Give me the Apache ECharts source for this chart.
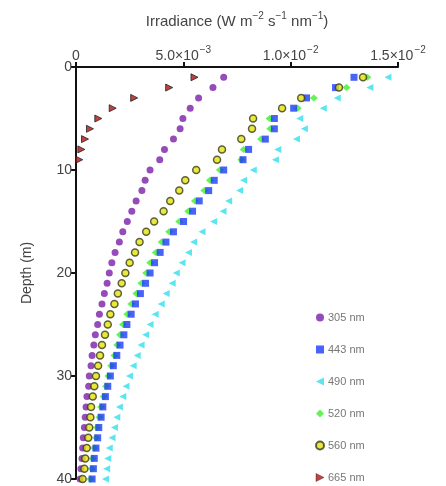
<!DOCTYPE html>
<html>
<head>
<meta charset="utf-8">
<script src="https://cdn.jsdelivr.net/npm/echarts@6/dist/echarts.min.js"></script>
<style>
html,body{margin:0;padding:0;background:#fff;}
#c{width:446px;height:486px;}
</style>
</head>
<body>
<div id="c"></div>
<script>
// Depth (m)
const depths = [1,2,3,4,5,6,7,8,9,10,11,12,13,14,15,16,17,18,19,20,21,22,23,24,25,26,27,28,29,30,31,32,33,34,35,36,37,38,39,40];
// Irradiance values in units of 1e-3 W m-2 s-1 nm-1
const e305 = [6.88,6.38,5.71,5.32,4.98,4.85,4.54,4.12,3.90,3.45,3.22,3.07,2.80,2.60,2.39,2.18,2.02,1.82,1.67,1.55,1.45,1.32,1.21,1.09,1.01,0.90,0.83,0.75,0.70,0.62,0.59,0.51,0.47,0.43,0.39,0.34,0.31,0.28,0.23,0.19];
const e443 = [12.95,12.09,10.74,10.14,9.24,9.24,8.82,8.04,7.78,6.88,6.44,6.18,5.74,5.43,5.01,4.54,4.19,3.92,3.66,3.45,3.24,3.00,2.77,2.57,2.37,2.23,2.05,1.90,1.74,1.60,1.48,1.37,1.25,1.17,1.06,1.01,0.93,0.85,0.81,0.75];
const e490 = [14.53,13.69,12.17,11.52,10.42,10.64,10.27,9.40,9.29,8.26,7.81,7.62,7.11,6.85,6.41,5.87,5.48,5.24,4.94,4.67,4.48,4.20,3.97,3.69,3.45,3.24,3.03,2.85,2.66,2.49,2.33,2.18,2.02,1.90,1.79,1.68,1.55,1.48,1.43,1.37];
const e520 = [13.57,12.60,11.08,10.33,9.02,9.05,8.62,7.81,7.70,6.70,6.24,5.98,5.54,5.23,4.81,4.34,3.99,3.72,3.46,3.27,3.05,2.81,2.58,2.39,2.19,2.05,1.92,1.79,1.64,1.51,1.40,1.29,1.17,1.09,0.98,0.93,0.85,0.77,0.73,0.67];
const e560 = [13.37,12.25,10.49,9.60,8.25,8.20,7.70,6.80,6.57,5.60,5.09,4.81,4.39,4.08,3.64,3.27,2.96,2.75,2.50,2.30,2.13,1.95,1.79,1.60,1.48,1.35,1.21,1.12,1.03,0.93,0.85,0.78,0.70,0.67,0.62,0.57,0.50,0.43,0.39,0.31];
const depths665 = [1,2,3,4,5,6,7,8,9];
const e665 = [5.52,4.34,2.71,1.71,1.04,0.65,0.42,0.25,0.15];

const seriesNames = ['305 nm','443 nm','490 nm','520 nm','560 nm','665 nm'];
const xTicks = [0, 0.005, 0.010, 0.015];
const xTickLabels = ['{b|0}', '{b|5.0\u00d710}{s|\u22123}', '{b|1.0\u00d710}{s|\u22122}', '{b|1.5\u00d710}{s|\u22122}'];
const yTicks = [0, 10, 20, 30, 40];
const xTitle = '{b|Irradiance (W m}{s|\u22122}{b| s}{s|\u22121}{b| nm}{s|\u22121}{b|)}';

function pairs(vals, ds) {
  return vals.map((v, i) => [v * 1e-3, ds[i]]);
}

const FONT = '"Liberation Sans", Arial, sans-serif';
const TRI_LEFT = 'path://M0,5 L10,0 L10,10 Z';
const TRI_RIGHT = 'path://M10,5 L0,0 L0,10 Z';
const richLabel = {
  b: {fontFamily: FONT, fontSize: 14, color: '#444', lineHeight: 18, verticalAlign: 'bottom'},
  s: {fontFamily: FONT, fontSize: 10, color: '#444', lineHeight: 18, verticalAlign: 'top', padding: [0, 0, 0, 1]}
};

const chart = echarts.init(document.getElementById('c'), null, {renderer: 'canvas'});
const option = {
  animation: false,
  backgroundColor: '#fff',
  grid: {left: 76, top: 67, right: 48, bottom: 4, containLabel: false},
  xAxis: {
    type: 'value',
    position: 'top',
    min: xTicks[0], max: xTicks[xTicks.length - 1], interval: 0.005,
    name: xTitle,
    nameLocation: 'middle', nameGap: 38,
    nameTextStyle: {fontFamily: FONT, fontSize: 15, color: '#444', rich: {
      b: {fontFamily: FONT, fontSize: 15, color: '#444', lineHeight: 18, verticalAlign: 'bottom'},
      s: {fontFamily: FONT, fontSize: 10, color: '#444', lineHeight: 18, verticalAlign: 'top'}
    }},
    axisLine: {show: true, lineStyle: {color: '#111', width: 2}},
    axisTick: {show: true, inside: false, length: 5, lineStyle: {color: '#111', width: 2}},
    axisLabel: {
      fontFamily: FONT, fontSize: 14, color: '#444', margin: 4,
      rich: richLabel,
      formatter: function (v) {
        const idx = xTicks.findIndex(t => Math.abs(t - v) < 1e-9);
        return idx >= 0 ? xTickLabels[idx] : '';
      }
    },
    splitLine: {show: false}
  },
  yAxis: {
    type: 'value',
    inverse: true,
    min: yTicks[0], max: yTicks[yTicks.length - 1], interval: 10,
    name: 'Depth (m)',
    nameLocation: 'middle', nameGap: 42,
    nameTextStyle: {fontFamily: FONT, fontSize: 14, color: '#444'},
    axisLine: {show: true, lineStyle: {color: '#111', width: 2}},
    axisTick: {show: true, inside: false, length: 5, lineStyle: {color: '#111', width: 2}},
    axisLabel: {fontFamily: FONT, fontSize: 14, color: '#444', margin: 4},
    splitLine: {show: false}
  },
  legend: {
    orient: 'vertical',
    left: 315, top: 312, padding: 0,
    height: 174,
    itemWidth: 8, itemHeight: 8, itemGap: 21,
    data: [
      {name: seriesNames[0], icon: 'circle'},
      {name: seriesNames[1], icon: 'rect'},
      {name: seriesNames[2], icon: TRI_LEFT},
      {name: seriesNames[3], icon: 'diamond'},
      {name: seriesNames[4], icon: 'circle'},
      {name: seriesNames[5], icon: TRI_RIGHT, itemStyle: {borderWidth: 0.5}}
    ],
    textStyle: {fontFamily: FONT, fontSize: 11, color: '#777', padding: [0, 0, 0, -1]}
  },
  series: [
    {name: seriesNames[0], type: 'scatter', data: pairs(e305, depths), symbol: 'circle', symbolSize: 7, z: 3,
     itemStyle: {color: '#7a1fa8'}},
    {name: seriesNames[1], type: 'scatter', data: pairs(e443, depths), symbol: 'rect', symbolSize: 7, z: 3,
     itemStyle: {color: '#1a3cf5'}},
    {name: seriesNames[2], type: 'scatter', data: pairs(e490, depths), symbol: TRI_LEFT, symbolSize: 7, z: 2,
     itemStyle: {color: '#30e0ee'}},
    {name: seriesNames[3], type: 'scatter', data: pairs(e520, depths), symbol: 'diamond', symbolSize: [8, 7], z: 2,
     itemStyle: {color: '#3cf028'}},
    {name: seriesNames[4], type: 'scatter', data: pairs(e560, depths), symbol: 'circle', symbolSize: 7, z: 4,
     itemStyle: {color: '#e4e40a', borderColor: '#3a3a20', borderWidth: 1.5}},
    {name: seriesNames[5], type: 'scatter', data: pairs(e665, depths665), symbol: TRI_RIGHT, symbolSize: 7, z: 5,
     itemStyle: {color: '#b0120e', borderColor: '#222', borderWidth: 1}}
  ]
};
chart.setOption(option);
</script>
</body>
</html>
